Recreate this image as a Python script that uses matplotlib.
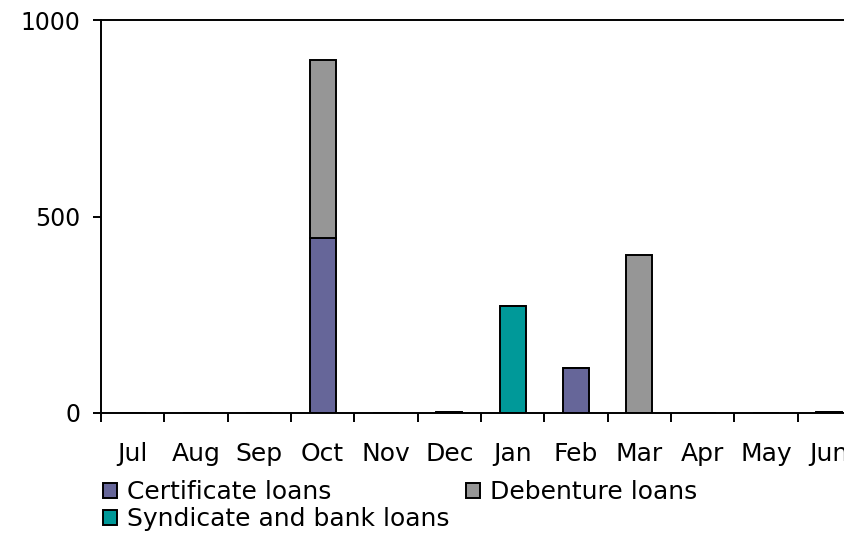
import matplotlib
matplotlib.use("Agg")
import matplotlib.pyplot as plt
import numpy as np
from matplotlib.ticker import FixedLocator, NullFormatter, FixedFormatter

months = ["Jul", "Aug", "Sep", "Oct", "Nov", "Dec",
          "Jan", "Feb", "Mar", "Apr", "May", "Jun"]
certificate_loans = [0, 0, 0, 445, 0, 3, 0, 115, 0, 0, 0, 3]
debenture_loans = [0, 0, 0, 453, 0, 0, 0, 0, 402, 0, 0, 0]
syndicate_bank_loans = [0, 0, 0, 0, 0, 0, 272, 0, 0, 0, 0, 0]

y_ticks = [0, 500, 1000]

colors = {
    "Certificate loans": "#666699",
    "Debenture loans": "#969696",
    "Syndicate and bank loans": "#009999",
}

plt.rcParams["font.family"] = ["DejaVu Sans"]
fs_y = 17
fs = 18

fig = plt.figure(figsize=(8.44, 5.33), dpi=100)
ax = fig.add_axes([101 / 844, 1 - 413 / 533, 760 / 844, 393 / 533])

x = np.arange(len(months))
w = 0.41
cert = np.array(certificate_loans)
deb = np.array(debenture_loans)
syn = np.array(syndicate_bank_loans)

bar_kw = dict(width=w, edgecolor="black", linewidth=1.4)
h_cert = ax.bar(x, cert, color=colors["Certificate loans"], **bar_kw)
h_syn = ax.bar(x, syn, bottom=cert, color=colors["Syndicate and bank loans"], **bar_kw)
h_deb = ax.bar(x, deb, bottom=cert + syn, color=colors["Debenture loans"], **bar_kw)

ax.set_xlim(-0.5, len(months) - 0.5)
ax.set_ylim(0, 1000)

ax.yaxis.set_major_locator(FixedLocator(y_ticks))
ax.set_yticklabels([str(v) for v in y_ticks], fontsize=fs_y)

ax.xaxis.set_major_locator(FixedLocator(np.arange(len(months) + 1) - 0.5))
ax.xaxis.set_major_formatter(NullFormatter())
ax.xaxis.set_minor_locator(FixedLocator(x))
ax.xaxis.set_minor_formatter(FixedFormatter(months))
ax.tick_params(axis="x", which="minor", length=0, pad=21, labelsize=fs)
ax.tick_params(axis="x", which="major", direction="out", length=6.5, width=1.4)
ax.tick_params(axis="y", direction="out", length=6, width=1.4, pad=9)

for side in ("left", "bottom", "top", "right"):
    ax.spines[side].set_linewidth(1.4)
    ax.spines[side].set_color("black")

fig.legend([h_cert, h_syn, h_deb],
           ["Certificate loans", "Syndicate and bank loans", "Debenture loans"],
           ncol=2, loc="upper left", bbox_to_anchor=(103 / 844, 1 - 480 / 533),
           frameon=False, fontsize=fs, handlelength=0.56, handleheight=0.56,
           handletextpad=0.4, columnspacing=0.64, labelspacing=0.12,
           borderaxespad=0, borderpad=0)

fig.savefig("out.png", dpi=100)
